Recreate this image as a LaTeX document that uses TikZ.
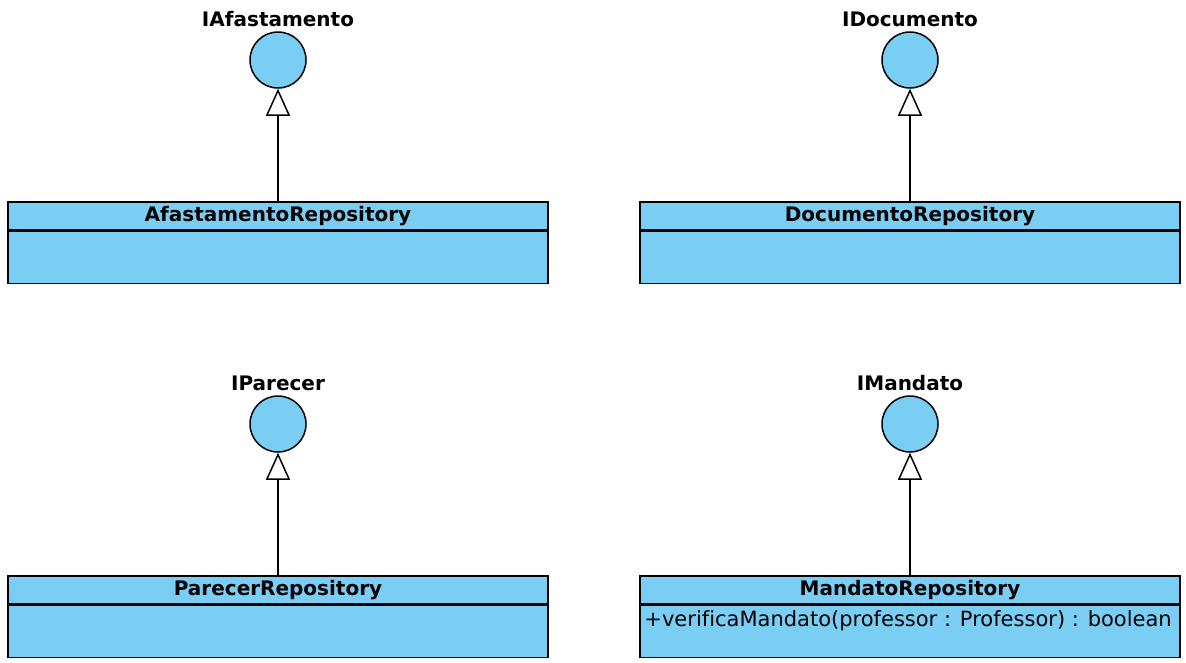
\documentclass[tikz,border=0pt]{standalone}
\usepackage{fontspec}
\setmainfont{DejaVu Sans}[Ligatures=NoCommon]
\usepackage{tikz}
\usetikzlibrary{arrows.meta,positioning}
\definecolor{umlblue}{RGB}{122,206,244}

\begin{document}
\begin{tikzpicture}[x=1pt, y=-1pt,
    iface/.style={circle, draw, line width=1.5pt, fill=umlblue, minimum size=56pt, inner sep=0pt},
    ifacename/.style={font=\fontsize{20}{22}\selectfont\bfseries},
    classname/.style={rectangle, draw, line width=1.5pt, fill=umlblue, minimum width=540pt,
                      minimum height=28pt, inner sep=0pt, font=\fontsize{20}{22}\selectfont\bfseries},
    members/.style={classname, minimum height=52pt, font=\fontsize{20}{22}\selectfont},
    operation/.style={anchor=north west, inner sep=0pt, font=\fontsize{21}{23}\selectfont},
    realize/.style={line width=1.5pt, -{Triangle[width=24pt, length=27pt, fill=white]}}
]
    \useasboundingbox (0,0) rectangle (1186,662);

    % top left
    \node[ifacename] (nAfast) at (278,19) {IAfastamento};
    \node[iface] (iAfast) at (278,60) {};
    \node[classname] (hAfast) at (278,216) {AfastamentoRepository};
    \node[members, below=0pt of hAfast] (bAfast) {};
    \draw[realize] (hAfast.north) -- (iAfast.south);

    % top right
    \node[ifacename] (nDoc) at (910,19) {IDocumento};
    \node[iface] (iDoc) at (910,60) {};
    \node[classname] (hDoc) at (910,216) {DocumentoRepository};
    \node[members, below=0pt of hDoc] (bDoc) {};
    \draw[realize] (hDoc.north) -- (iDoc.south);

    % bottom left
    \node[ifacename] (nParecer) at (278,383) {IParecer};
    \node[iface] (iParecer) at (278,424) {};
    \node[classname] (hParecer) at (278,590) {ParecerRepository};
    \node[members, below=0pt of hParecer] (bParecer) {};
    \draw[realize] (hParecer.north) -- (iParecer.south);

    % bottom right
    \node[ifacename] (nMandato) at (910,383) {IMandato};
    \node[iface] (iMandato) at (910,424) {};
    \node[classname] (hMandato) at (910,590) {MandatoRepository};
    \node[members, below=0pt of hMandato] (bMandato) {};
    \node[operation] (opMandato) at ([xshift=5pt, yshift=-6pt]bMandato.north west)
        {+verificaMandato(professor : Professor) : boolean};
    \draw[realize] (hMandato.north) -- (iMandato.south);
\end{tikzpicture}
\end{document}
